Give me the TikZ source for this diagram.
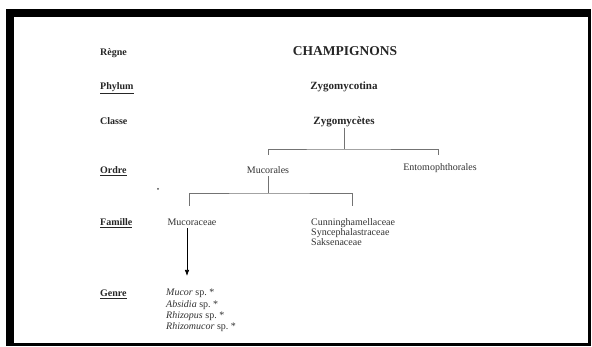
\documentclass[tikz,border=0pt]{standalone}
\usepackage{fontspec}
\setmainfont{Liberation Serif}
\usetikzlibrary{arrows.meta}

\tikzset{
  rank/.style={anchor=base west,inner sep=0pt,font=\fontsize{10}{12}\selectfont\bfseries,text=black!85},
  head/.style={anchor=base,inner sep=0pt,font=\fontsize{11}{13}\selectfont\bfseries,text=black!85},
  taxon/.style={anchor=base,inner sep=0pt,font=\fontsize{10}{12}\selectfont,text=black!80},
  link/.style={draw=black!55,line width=0.7pt},
  genarrow/.style={draw=black,line width=0.7pt,-{Latex[length=6pt,width=4.5pt]}}
}

\begin{document}
\begin{tikzpicture}[x=1pt,y=-1pt]
	\useasboundingbox (0,0) rectangle (592,347);
	%frame
	\fill[black] (6,9.5) rectangle (590.5,346.5);
	\fill[white] (14,17) rectangle (588,343);

	%ranks
	\node[rank] (regne) at (100,55.5) {Règne};
	\node[rank] (phylum) at (100,89.5) {\underline{Phylum}};
	\node[rank] (classe) at (100,124.5) {Classe};
	\node[rank] (ordre) at (100,173.5) {\underline{Ordre}};
	\node[rank] (famille) at (100,225.5) {\underline{Famille}};
	\node[rank] (genre) at (100,296.5) {\underline{Genre}};

	%taxa
	\node[head,font=\fontsize{13.5}{15}\selectfont\bfseries] (champ) at (345,56) {CHAMPIGNONS};
	\node[head] (zygota) at (344,90) {Zygomycotina};
	\node[head] (zygo) at (344,125) {Zygomycètes};
	\node[taxon] (mucorales) at (268,174) {Mucorales};
	\node[taxon] (ento) at (440,171) {Entomophthorales};
	\node[taxon] (mucoraceae) at (192,226) {Mucoraceae};
	\node[taxon,anchor=north west,align=left,font=\fontsize{10}{10}\selectfont] (cunning) at (311,218.5) {Cunninghamellaceae\\Syncephalastraceae\\Saksenaceae};
	\node[taxon,anchor=north west,align=left,font=\fontsize{10}{11.3}\selectfont] (genera) at (166,289) {\textit{Mucor} sp.\ *\\\textit{Absidia} sp.\ *\\\textit{Rhizopus} sp.\ *\\\textit{Rhizomucor} sp.\ *};
	\node[circle,fill=black!70,inner sep=0pt,minimum size=2pt] (speck) at (158,189) {};

	%tree
	\coordinate (barO) at (0,149);
	\coordinate (ordL) at (268,155);
	\coordinate (ordR) at (438,155);
	\coordinate (barF) at (0,193);
	\coordinate (famL) at (189,206);
	\coordinate (famR) at (352,206);
	\coordinate (arrTip) at (187,276);
	\draw[link] (zygo.south) -- (zygo.south |- barO);
	\draw[link] (ordL) |- (barO -| zygo) -| (ordR);
	\draw[link,shorten <=2pt] (mucorales.south) -- (mucorales.south |- barF);
	\draw[link] (famL) |- (barF -| mucorales) -| (famR);

	%arrow
	\draw[genarrow,shorten <=2pt] (mucoraceae.south -| arrTip) -- (arrTip);
\end{tikzpicture}
\end{document}
